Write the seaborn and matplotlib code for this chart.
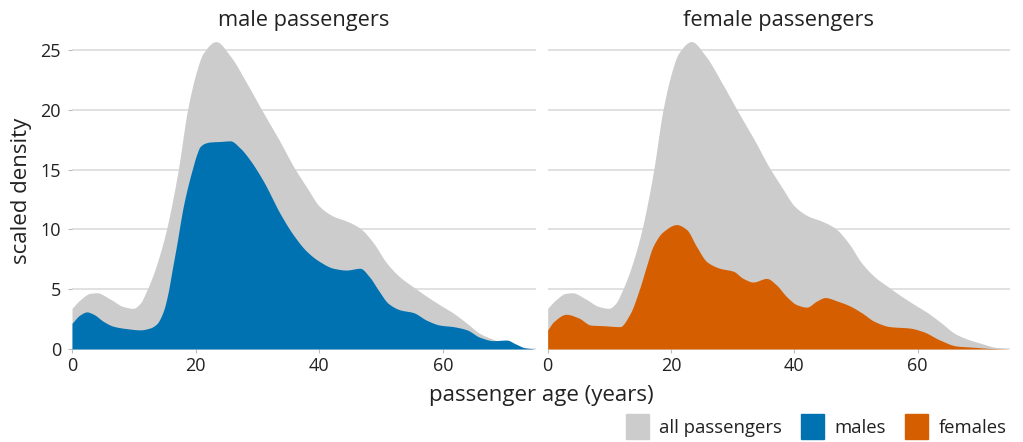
import numpy as np
import pandas as pd
import matplotlib
matplotlib.use("Agg")
import matplotlib.pyplot as plt
import seaborn as sns
from matplotlib.patches import Patch

# ---- data ----
all_age = [0, 1.3, 2.9, 4.0, 6.1, 8.3, 9.9, 11.0, 12.1, 13.2, 14.2, 15.2, 16.2, 17.2, 18.7,
           20.2, 21.2, 23.3, 25.6, 28.3, 30.8, 33.7, 35.8, 38.0, 40.1, 42.3, 44.4, 46.6, 48.8,
           50.9, 53.1, 55.2, 57.4, 59.5, 61.7, 63.9, 66.0, 68.2, 70.3, 72.5, 75]
all_density = [3.4, 4.1, 4.65, 4.7, 4.2, 3.55, 3.4, 3.8, 4.9, 6.3, 7.9, 9.8, 12.2, 15.0, 20.0,
               23.3, 24.7, 25.7, 24.5, 22.2, 19.9, 17.3, 15.3, 13.5, 11.9, 11.1, 10.7, 10.1,
               8.85, 7.2, 6.0, 5.2, 4.4, 3.7, 3.0, 2.15, 1.3, 0.8, 0.47, 0.15, 0.0]

male_age = [0, 1.3, 2.4, 3.5, 5.1, 6.7, 8.9, 11.0, 12.6, 13.7, 14.8, 15.5, 16.2, 16.9, 18.0,
            18.6, 19.4, 20.2, 20.7, 21.5, 22.3, 24.0, 25.6, 27.2, 28.8, 31.0, 33.7, 35.8, 38.0,
            40.1, 42.3, 44.4, 46.6, 48.1, 49.6, 51.2, 53.1, 55.2, 57.4, 59.5, 61.7, 63.9,
            66.0, 68.2, 70.3, 71.8, 73.3, 75]
male_density = [2.15, 2.85, 3.1, 2.9, 2.3, 1.9, 1.7, 1.6, 1.75, 2.1, 3.2, 4.6, 6.6, 8.6, 11.9,
                13.3, 14.9, 16.3, 16.9, 17.2, 17.3, 17.35, 17.4, 16.8, 15.8, 14.0, 11.3, 9.55,
                8.15, 7.3, 6.75, 6.6, 6.75, 6.05, 4.9, 3.8, 3.27, 3.05, 2.4, 2.0, 1.87, 1.6,
                0.98, 0.7, 0.75, 0.42, 0.1, 0.0]

female_age = [0, 1, 3, 5, 7, 9, 11.7, 13.3, 15.0, 16.0, 17.1, 18.7, 20.9, 22.5, 24.1, 25.8,
              27.9, 30.1, 31.7, 33.3, 35.5, 37.1, 38.7, 40.4, 42.0, 43.6, 45, 47, 49, 51, 53,
              55.5, 58.7, 60.9, 63.6, 66.3, 69, 71.7, 75]
female_density = [1.6, 2.3, 2.9, 2.6, 2.0, 1.95, 1.87, 2.9, 5.2, 6.9, 8.6, 9.8, 10.4, 10.0, 8.6,
                  7.3, 6.75, 6.5, 5.9, 5.6, 5.9, 5.35, 4.4, 3.7, 3.5, 4.0, 4.3, 4.0, 3.6, 3.0,
                  2.3, 1.87, 1.75, 1.45, 0.75, 0.25, 0.15, 0.05, 0.0]

panel_titles = ["male passengers", "female passengers"]
legend_labels = ["all passengers", "males", "females"]
x_ticks = [0, 20, 40, 60]
y_ticks = [0, 5, 10, 15, 20, 25]

grey = "#CCCCCC"
blue = "#0072B2"
orange = "#D55E00"
text_col = "#222222"

sns.set_theme(style="white")
plt.rcParams["font.family"] = ["Open Sans", "DejaVu Sans"]

def smooth(x, y, n=900):
    """Smooth shape-preserving (PCHIP) curve through the read points."""
    x = np.asarray(x, float)
    y = np.asarray(y, float)
    xs = np.linspace(x[0], x[-1], n)
    h = np.diff(x)
    d = np.diff(y) / h
    m = np.zeros_like(y)
    m[0], m[-1] = d[0], d[-1]
    for k in range(1, len(x) - 1):
        if d[k - 1] * d[k] <= 0:
            m[k] = 0
        else:
            w1 = 2 * h[k] + h[k - 1]
            w2 = h[k] + 2 * h[k - 1]
            m[k] = (w1 + w2) / (w1 / d[k - 1] + w2 / d[k])
    idx = np.clip(np.searchsorted(x, xs) - 1, 0, len(x) - 2)
    t = (xs - x[idx]) / h[idx]
    h00 = 2 * t**3 - 3 * t**2 + 1
    h10 = t**3 - 2 * t**2 + t
    h01 = -2 * t**3 + 3 * t**2
    h11 = t**3 - t**2
    ys = h00 * y[idx] + h10 * h[idx] * m[idx] + h01 * y[idx + 1] + h11 * h[idx] * m[idx + 1]
    return xs, np.clip(ys, 0, None)

W, H = 1023, 442
fig = plt.figure(figsize=(W / 100, H / 100), dpi=100)
ax_l = fig.add_axes([72 / W, 1 - 349 / H, (535.5 - 72) / W, 317 / H])
ax_r = fig.add_axes([547.7 / W, 1 - 349 / H, (1010.2 - 547.7) / W, 317 / H])

xa, ya = smooth(all_age, all_density)
panels = [(ax_l, male_age, male_density, blue, panel_titles[0]),
          (ax_r, female_age, female_density, orange, panel_titles[1])]

for ax, xs_, ys_, col, title in panels:
    df_all = pd.DataFrame({"age": xa, "density": ya})
    sns.lineplot(data=df_all, x="age", y="density", ax=ax, color=grey, linewidth=0)
    ax.fill_between(xa, 0, ya, color=grey, linewidth=0, zorder=2)
    xg, yg = smooth(xs_, ys_)
    df_g = pd.DataFrame({"age": xg, "density": yg})
    sns.lineplot(data=df_g, x="age", y="density", ax=ax, color=col, linewidth=0)
    ax.fill_between(xg, 0, yg, color=col, linewidth=0, zorder=3)
    ax.set_xlim(0, 75)
    ax.set_ylim(0, 26.5)
    ax.set_xticks(x_ticks)
    ax.set_yticks(y_ticks)
    ax.grid(axis="y", color="#DCDCDC", linewidth=1.2, zorder=0)
    ax.set_axisbelow(True)
    for s in ax.spines.values():
        s.set_visible(False)
    ax.tick_params(axis="both", length=3, width=0.8, color="#BBBBBB",
                   labelsize=13, labelcolor=text_col, pad=3)
    ax.tick_params(axis="y", pad=5)
    ax.tick_params(axis="x", bottom=True)
    ax.tick_params(axis="y", left=True)
    ax.set_title(title, fontsize=15.7, color=text_col, pad=4)
    ax.set_xlabel("")
    ax.set_ylabel("")

ax_r.set_yticklabels([])
ax_r.tick_params(axis="y", left=False)
ax_l.set_ylabel("scaled density", fontsize=16, color=text_col, labelpad=6)
fig.text(541 / W, 1 - 396 / H, "passenger age (years)", ha="center", va="center",
         fontsize=16, color=text_col)

handles = [Patch(facecolor=c, edgecolor=c, label=l)
           for c, l in zip([grey, blue, orange], legend_labels)]
fig.legend(handles=handles, loc="lower right", bbox_to_anchor=(1014 / W, -0.01),
           ncol=3, frameon=False, fontsize=13.3, handlelength=1.25, handleheight=1.7,
           handletextpad=0.55, columnspacing=1.05, borderaxespad=0.0,
           labelcolor=text_col)

fig.savefig("out.png", dpi=100)
